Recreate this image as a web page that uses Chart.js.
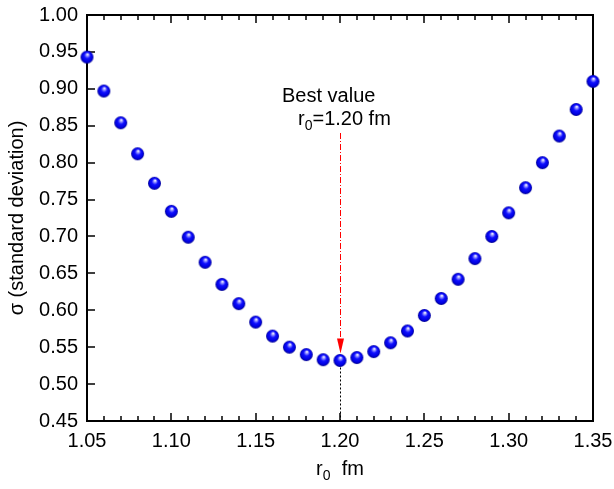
<!DOCTYPE html>
<html>
<head>
<meta charset="utf-8">
<script src="https://cdn.jsdelivr.net/npm/chart.js@4/dist/chart.umd.min.js"></script>
<style>
  html, body { margin: 0; padding: 0; background: #fff; }
  #wrap { width: 614px; height: 489px; }
</style>
</head>
<body>
<div id="wrap"><canvas id="chart" width="614" height="489"></canvas></div>
<script>
// r0 (fm) and sigma
const rValues = [1.05, 1.06, 1.07, 1.08, 1.09, 1.10, 1.11, 1.12, 1.13, 1.14, 1.15,
  1.16, 1.17, 1.18, 1.19, 1.20, 1.21, 1.22, 1.23, 1.24, 1.25, 1.26, 1.27, 1.28,
  1.29, 1.30, 1.31, 1.32, 1.33, 1.34, 1.35];
const sigmaValues = [0.943, 0.897, 0.854, 0.812, 0.772, 0.734, 0.699, 0.665, 0.635,
  0.609, 0.584, 0.565, 0.550, 0.540, 0.533, 0.532, 0.536, 0.544, 0.556, 0.572,
  0.593, 0.616, 0.642, 0.670, 0.700, 0.732, 0.766, 0.800, 0.836, 0.872, 0.910];
const xTicks = [1.05, 1.10, 1.15, 1.20, 1.25, 1.30, 1.35];
const yTicks = [0.45, 0.50, 0.55, 0.60, 0.65, 0.70, 0.75, 0.80, 0.85, 0.90, 0.95, 1.00];
const bestR = 1.20;

const xMin = xTicks[0], xMax = xTicks[xTicks.length - 1];
const yMin = yTicks[0], yMax = yTicks[yTicks.length - 1];
const FONT = 'Liberation Sans, Arial, sans-serif';
const isMajor = v => xTicks.some(t => Math.abs(t - v) < 1e-6);

// shaded blue ball used as point style
function makeBall(r) {
  const c = document.createElement('canvas');
  c.width = c.height = r * 2 + 2;
  const g = c.getContext('2d');
  const cx = r + 1, cy = r + 1;
  const grad = g.createRadialGradient(cx + r * 0.1, cy - r * 0.45, 0.2, cx, cy, r);
  grad.addColorStop(0, '#ffffff');
  grad.addColorStop(0.18, '#9a9aff');
  grad.addColorStop(0.45, '#1010ff');
  grad.addColorStop(0.8, '#0000e0');
  grad.addColorStop(1, '#00008a');
  g.fillStyle = grad;
  g.beginPath();
  g.arc(cx, cy, r, 0, Math.PI * 2);
  g.fill();
  return c;
}
const ball = makeBall(6.5);

// tick mark sprites: centred on the axis, only the inner half is inked
function tickImg(w, h, x, y, fw, fh) {
  const c = document.createElement('canvas');
  c.width = w; c.height = h;
  const g = c.getContext('2d');
  g.fillStyle = '#000';
  g.fillRect(x, y, fw, fh);
  return c;
}
const tickBottomMajor = tickImg(2, 16, 0.25, 0, 1.5, 8);
const tickBottomMinor = tickImg(2, 10, 0.25, 0, 1.5, 5);
const tickTopMajor = tickImg(2, 16, 0.25, 8, 1.5, 8);
const tickTopMinor = tickImg(2, 10, 0.25, 5, 1.5, 5);
const tickLeft = tickImg(16, 2, 8, 0.25, 8, 1.5);

// text with a subscript "0" after the first letter
function subText(ctx, pre, sub, post, x, y, align) {
  ctx.font = '20px ' + FONT;
  const w1 = ctx.measureText(pre).width, w3 = ctx.measureText(post).width;
  ctx.font = '14px ' + FONT;
  const w2 = ctx.measureText(sub).width;
  let sx = align === 'center' ? x - (w1 + w2 + w3) / 2 : x;
  ctx.textAlign = 'left';
  ctx.font = '20px ' + FONT;
  ctx.fillText(pre, sx, y);
  ctx.font = '14px ' + FONT;
  ctx.fillText(sub, sx + w1, y + 5);
  ctx.font = '20px ' + FONT;
  ctx.fillText(post, sx + w1 + w2, y);
}

const annotate = {
  id: 'annotate',
  afterDraw(chart) {
    const ctx = chart.ctx, a = chart.chartArea;
    const xs = chart.scales.x, ys = chart.scales.y;
    ctx.save();
    const bx = Math.round(xs.getPixelForValue(bestR)) + 0.5;
    const by = ys.getPixelForValue(sigmaValues[rValues.indexOf(bestR)]);
    ctx.strokeStyle = '#ff0000';
    ctx.lineWidth = 1;
    ctx.setLineDash([6, 2, 1, 2]);
    ctx.beginPath();
    ctx.moveTo(bx, 133); ctx.lineTo(bx, by - 14);
    ctx.stroke();
    ctx.setLineDash([]);
    ctx.fillStyle = '#ff0000';
    ctx.beginPath();
    ctx.moveTo(bx - 3.5, by - 22); ctx.lineTo(bx + 3.5, by - 22); ctx.lineTo(bx, by - 7);
    ctx.closePath();
    ctx.fill();

    ctx.strokeStyle = '#000';
    ctx.setLineDash([2, 2]);
    ctx.beginPath();
    ctx.moveTo(bx, by + 7); ctx.lineTo(bx, a.bottom);
    ctx.stroke();
    ctx.setLineDash([]);

    ctx.fillStyle = '#000';
    ctx.textBaseline = 'alphabetic';
    ctx.textAlign = 'left';
    ctx.font = '20px ' + FONT;
    ctx.fillText('Best value', 282, 102);
    subText(ctx, 'r', '0', '=1.20 fm', 298, 125, 'left');
    subText(ctx, 'r', '0', '  fm', (a.left + a.right) / 2, 475, 'center');
    ctx.restore();
  }
};

const tickSet = (data, style) => ({
  data, pointStyle: style, pointRadius: 4, pointHoverRadius: 4, clip: false, showLine: false
});

new Chart(document.getElementById('chart'), {
  type: 'scatter',
  data: {
    datasets: [
      {
        data: rValues.map((r, i) => ({ x: r, y: sigmaValues[i] })),
        pointStyle: ball, pointRadius: 6, pointHoverRadius: 6, clip: false
      },
      tickSet(rValues.map(v => ({ x: v, y: yMin })),
        c => isMajor(c.raw.x) ? tickBottomMajor : tickBottomMinor),
      tickSet(rValues.map(v => ({ x: v, y: yMax })),
        c => isMajor(c.raw.x) ? tickTopMajor : tickTopMinor),
      tickSet(yTicks.map(v => ({ x: xMin, y: v })), tickLeft)
    ]
  },
  options: {
    responsive: false,
    animation: false,
    events: [],
    layout: { padding: { top: 15, right: 21, left: 0, bottom: 0 } },
    plugins: { legend: { display: false }, tooltip: { enabled: false } },
    scales: {
      x: {
        type: 'linear', position: 'bottom', min: xMin, max: xMax,
        afterBuildTicks: s => { s.ticks = xTicks.map(v => ({ value: v })); },
        afterFit: s => { s.height = 68; s.paddingLeft = 0; s.paddingRight = 0; },
        grid: { display: false, drawTicks: false, tickLength: 0 },
        border: { display: true, color: '#000', width: 2 },
        ticks: {
          autoSkip: false, maxRotation: 0, padding: 8, color: '#000',
          font: { family: FONT, size: 20 },
          callback: v => v.toFixed(2)
        }
      },
      x2: {
        type: 'linear', position: 'top', min: xMin, max: xMax,
        afterFit: s => { s.height = 0; s.paddingLeft = 0; s.paddingRight = 0; },
        grid: { display: false, drawTicks: false, tickLength: 0 },
        border: { display: true, color: '#000', width: 2 },
        ticks: { display: false }
      },
      y: {
        position: 'left', min: yMin, max: yMax,
        afterBuildTicks: s => { s.ticks = yTicks.map(v => ({ value: v })); },
        afterFit: s => { s.width = 87; s.paddingTop = 0; s.paddingBottom = 0; },
        grid: { display: false, drawTicks: false, tickLength: 0 },
        border: { display: true, color: '#000', width: 2 },
        ticks: {
          padding: 9, color: '#000',
          font: { family: FONT, size: 20 },
          callback: v => v.toFixed(2)
        },
        title: {
          display: true, text: '\u03c3 (standard deviation)', color: '#000',
          font: { family: FONT, size: 20 }, padding: { top: 5, bottom: 0 }
        }
      },
      y2: {
        position: 'right', min: yMin, max: yMax,
        afterFit: s => { s.width = 0; s.paddingTop = 0; s.paddingBottom = 0; },
        grid: { display: false, drawTicks: false, tickLength: 0 },
        border: { display: true, color: '#000', width: 2 },
        ticks: { display: false }
      }
    }
  },
  plugins: [annotate]
});
</script>
</body>
</html>
